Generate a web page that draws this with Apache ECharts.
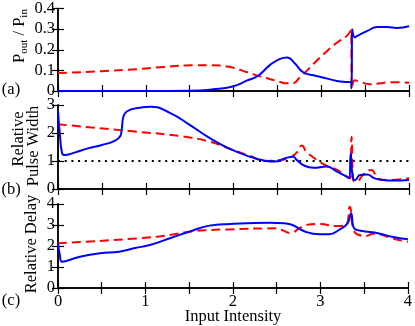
<!DOCTYPE html>
<html>
<head>
<meta charset="utf-8">
<script src="https://cdn.jsdelivr.net/npm/echarts@6/dist/echarts.min.js"></script>
<style>html,body{margin:0;padding:0;background:#fff}#c{width:415px;height:326px}</style>
</head>
<body>
<div id="c"></div>
<script>
// ---- Data ----
// Panel (a): Pout/Pin
const aBlueX = [0, 1.0, 1.5, 1.77, 1.99, 2.15, 2.28, 2.42, 2.53, 2.61, 2.70, 2.79, 2.91, 3.07, 3.18, 3.29, 3.335, 3.345, 3.352, 3.385, 3.41, 3.52, 3.64, 3.75, 3.86, 4.0];
const aBlueY = [0, 0.0, 0.001, 0.008, 0.022, 0.05, 0.074, 0.128, 0.156, 0.163, 0.133, 0.092, 0.076, 0.06, 0.049, 0.044, 0.043, 0.012, 0.3, 0.26, 0.267, 0.29, 0.31, 0.31, 0.306, 0.314];
const aRedX = [0, 0.5, 0.9, 1.2, 1.58, 1.73, 1.96, 2.15, 2.3, 2.42, 2.53, 2.6, 2.67, 2.76, 2.84, 2.95, 3.07, 3.18, 3.29, 3.34, 3.35, 3.385, 3.44, 3.56, 3.67, 3.78, 4.0];
const aRedY = [0.087, 0.096, 0.106, 0.116, 0.125, 0.125, 0.116, 0.092, 0.071, 0.057, 0.044, 0.037, 0.037, 0.068, 0.1, 0.148, 0.195, 0.235, 0.267, 0.294, 0.013, 0.052, 0.044, 0.033, 0.037, 0.043, 0.04];
// Panel (b): relative pulse width
const bBlueX = [0, 0.02, 0.045, 0.07, 0.19, 0.34, 0.5, 0.65, 0.71, 0.725, 0.745, 0.78, 0.88, 1.05, 1.28, 1.5, 1.73, 1.96, 2.19, 2.36, 2.47, 2.59, 2.68, 2.72, 2.81, 2.91, 3.06, 3.18, 3.29, 3.32, 3.335, 3.36, 3.385, 3.44, 3.52, 3.61, 3.7, 3.82, 4.0];
const bBlueY = [2.78, 2.0, 1.3, 1.21, 1.3, 1.45, 1.57, 1.73, 1.89, 2.1, 2.58, 2.76, 2.88, 2.94, 2.71, 2.29, 1.82, 1.43, 1.15, 1.01, 0.98, 1.1, 1.15, 1.04, 0.83, 0.76, 0.8, 0.62, 0.44, 0.38, 1.27, 0.38, 0.32, 0.5, 0.52, 0.38, 0.32, 0.3, 0.32];
const bRedX = [0, 0.88, 1.39, 1.73, 1.96, 2.19, 2.36, 2.5, 2.64, 2.72, 2.78, 2.83, 2.95, 3.06, 3.18, 3.29, 3.33, 3.345, 3.365, 3.4, 3.48, 3.57, 3.65, 3.75, 4.0];
const bRedY = [2.31, 2.05, 1.89, 1.69, 1.43, 1.18, 1.0, 1.02, 1.12, 1.3, 1.55, 1.33, 1.04, 0.83, 0.68, 0.44, 0.38, 1.87, 0.32, 0.26, 0.52, 0.68, 0.38, 0.32, 0.38];
const bRefX = [0, 4];
const bRefY = [1, 1];
// Panel (c): relative delay
const cBlueX = [0, 0.02, 0.045, 0.25, 0.48, 0.7, 0.88, 1.05, 1.28, 1.5, 1.73, 1.96, 2.42, 2.59, 2.68, 2.83, 2.99, 3.1, 3.21, 3.31, 3.35, 3.385, 3.46, 3.67, 3.82, 4.0];
const cBlueY = [2.14, 1.6, 1.25, 1.49, 1.65, 1.73, 1.9, 2.05, 2.37, 2.68, 2.97, 3.05, 3.11, 3.08, 3.0, 2.68, 2.56, 2.56, 2.76, 3.08, 3.56, 2.84, 2.73, 2.6, 2.44, 2.32];
const cRedX = [0, 0.93, 1.28, 1.5, 1.73, 1.96, 2.47, 2.56, 2.65, 2.76, 2.83, 2.99, 3.18, 3.29, 3.335, 3.38, 3.44, 3.52, 3.6, 3.86, 4.0];
const cRedY = [2.13, 2.37, 2.52, 2.68, 2.76, 2.79, 2.84, 2.76, 2.62, 2.84, 3.0, 3.05, 2.95, 3.0, 3.87, 2.76, 2.52, 2.48, 2.58, 2.32, 2.2];
// Axes
const xTicks = [0, 1, 2, 3, 4];
const aTicks = [0, 0.1, 0.2, 0.3, 0.4];
const bTicks = [0, 1, 2, 3];
const cTicks = [0, 1, 2, 3, 4];

// ---- Chart ----
const FONT = 'Liberation Serif';
const FS = 16.5;
const zip = (xs, ys) => xs.map((x, i) => [x, ys[i]]);
const grids = [
  {left: 58, right: 6, top: 7, height: 84},
  {left: 58, right: 6, top: 105, height: 84},
  {left: 58, right: 6, top: 204, height: 84}
];
const axLine = {show: true, lineStyle: {color: '#000', width: 1.5}};
const tick = {show: true, inside: true, length: 6, lineStyle: {color: '#000', width: 1.2}};
const xAxes = [], yAxes = [];
const yTickSets = [aTicks, bTicks, cTicks];
grids.forEach((g, i) => {
  xAxes.push({type: 'value', gridIndex: i, min: xTicks[0], max: xTicks[xTicks.length - 1], interval: 0.5,
    position: 'bottom', axisLine: axLine, axisTick: tick, splitLine: {show: false},
    axisLabel: {show: i === 2, margin: 5, color: '#000', fontFamily: FONT, fontSize: FS,
      formatter: v => xTicks.includes(v) ? String(v) : ''}});
  xAxes.push({type: 'value', gridIndex: i, min: xTicks[0], max: xTicks[xTicks.length - 1], interval: 0.5,
    position: 'top', axisLine: axLine, axisTick: tick, splitLine: {show: false}, axisLabel: {show: false}});
  const t = yTickSets[i];
  const iv = t[1] - t[0];
  yAxes.push({type: 'value', gridIndex: i, min: t[0], max: t[t.length - 1], interval: iv,
    position: 'left', axisLine: axLine, axisTick: tick, splitLine: {show: false},
    axisLabel: {margin: 3, color: '#000', fontFamily: FONT, fontSize: FS,
      formatter: v => i === 0 ? (v === 0 ? '0' : v.toFixed(1)) : String(v)}});
  yAxes.push({type: 'value', gridIndex: i, min: t[0], max: t[t.length - 1], interval: iv,
    position: 'right', axisLine: axLine, axisTick: tick, splitLine: {show: false}, axisLabel: {show: false}});
});
const blue = '#0000ff', red = '#ff0000';
function ln(data, gi, color, dashed) {
  return {type: 'line', xAxisIndex: gi * 2, yAxisIndex: gi * 2, data: data, symbol: 'none',
    smooth: 0.5, silent: true, animation: false,
    lineStyle: {color: color, width: 2, type: dashed ? [9, 5] : 'solid'}};
}
const series = [
  {type: 'line', xAxisIndex: 2, yAxisIndex: 2, data: zip(bRefX, bRefY), symbol: 'none', animation: false,
    lineStyle: {color: '#000', width: 2, type: [2, 4.7]}},
  ln(zip(aRedX, aRedY), 0, red, true),
  ln(zip(aBlueX, aBlueY), 0, blue, false),
  ln(zip(bRedX, bRedY), 1, red, true),
  ln(zip(bBlueX, bBlueY), 1, blue, false),
  ln(zip(cRedX, cRedY), 2, red, true),
  ln(zip(cBlueX, cBlueY), 2, blue, false)
];
const txt = (x, y, text, rot) => ({type: 'text', x: x, y: y, rotation: rot || 0, silent: true,
  style: {text: text, fill: '#000', font: FS + 'px "' + FONT + '"', align: 'center', verticalAlign: 'middle'}});
const graphic = [
  txt(11, 90, '(a)'),
  txt(11, 190, '(b)'),
  txt(11, 301, '(c)'),
  {type: 'text', x: 20, y: 36, rotation: Math.PI / 2, silent: true,
    style: {text: '{m|P}{s|out}{m| / P}{s|in}', align: 'center', verticalAlign: 'middle', fill: '#000',
      rich: {m: {fontFamily: FONT, fontSize: FS, lineHeight: 18, verticalAlign: 'top'},
             s: {fontFamily: FONT, fontSize: 11, lineHeight: 12, verticalAlign: 'top', padding: [8, 0, 0, 0]}}}},
  txt(19, 139, 'Relative', Math.PI / 2),
  txt(34, 146, 'Pulse Width', Math.PI / 2),
  txt(32, 244, 'Relative Delay', Math.PI / 2),
  txt(233, 317, 'Input Intensity')
];
const chart = echarts.init(document.getElementById('c'), null, {renderer: 'canvas'});
chart.setOption({animation: false, grid: grids, xAxis: xAxes, yAxis: yAxes, series: series, graphic: graphic});
</script>
</body>
</html>
